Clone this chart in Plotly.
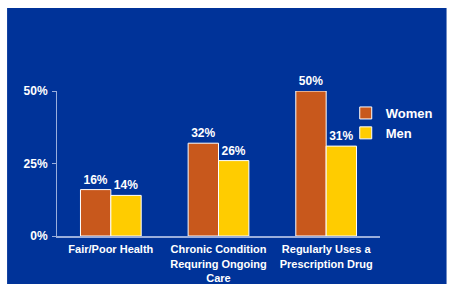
import plotly.graph_objects as go

categories = ["Fair/Poor Health", "Chronic Condition<br>Requring Ongoing<br>Care", "Regularly Uses a<br>Prescription Drug"]
women = [16, 32, 50]
men = [14, 26, 31]
series_names = ["Women", "Men"]
tick_vals = [0, 25, 50]
tick_text = ["0%", "25%", "50%"]

W, H = 450, 284
L, R, T, B = 57, 63, 91, 48
pw, ph = W - L - R, H - T - B

BLUE = "#003399"
AXIS = "#9AAEDC"
FONT = "Liberation Sans, Arial, sans-serif"

def px_x(p):
    return (p - L) / pw

def px_y(p):
    return (H - B - p) / ph

fig = go.Figure()
for name, vals, col in [(series_names[0], women, "#C8581C"), (series_names[1], men, "#FFCC00")]:
    fig.add_trace(go.Bar(
        name=name, x=categories, y=vals,
        marker=dict(color=col, line=dict(color="white", width=1)),
        text=[f"{v}%" for v in vals], textposition="outside",
        textfont=dict(color="white", size=12, family=FONT, weight="bold"),
        cliponaxis=False,
    ))

fig.update_layout(
    width=W, height=H,
    margin=dict(l=L, r=R, t=T, b=B, pad=0),
    paper_bgcolor="white",
    plot_bgcolor="rgba(0,0,0,0)",
    barmode="group", bargap=0.436, bargroupgap=0,
    font=dict(family=FONT, color="white", size=12),
    shapes=[dict(type="rect", xref="paper", yref="paper", layer="below",
                 x0=px_x(6), x1=px_x(W + 5), y0=px_y(H + 5), y1=px_y(8),
                 fillcolor=BLUE, line=dict(width=0))],
    legend=dict(x=px_x(352), y=px_y(98), xanchor="left", yanchor="top",
                font=dict(size=13, color="white", family=FONT, weight="bold"),
                bgcolor="rgba(0,0,0,0)", itemwidth=30),
    xaxis=dict(range=[-0.5, 2.5], showline=True, linecolor=AXIS, linewidth=2,
               ticks="", ticklabelstandoff=2,
               tickfont=dict(size=11, color="white", family=FONT, weight="bold"),
               showgrid=False, zeroline=False, fixedrange=True, automargin=False),
    yaxis=dict(range=[0, 50], tickvals=tick_vals, ticktext=tick_text,
               showline=True, linecolor=AXIS, linewidth=1,
               ticks="outside", ticklen=4, tickcolor=AXIS, ticklabelstandoff=2,
               tickfont=dict(size=12, color="white", family=FONT, weight="bold"),
               showgrid=False, zeroline=False, fixedrange=True, automargin=False),
)
fig.write_html("out.html", config={"displayModeBar": False},
               post_script="document.body.style.margin='0';document.body.style.overflow='hidden';")
